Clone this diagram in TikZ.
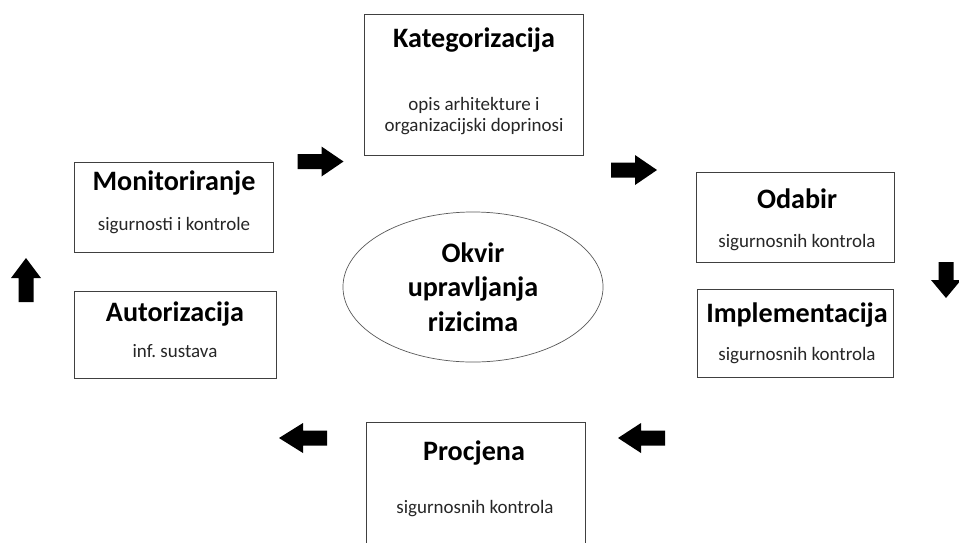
\documentclass[tikz,border=0pt]{standalone}
\usepackage{fontspec}
\setmainfont{Carlito}
\usetikzlibrary{shapes.geometric}

\begin{document}
\begin{tikzpicture}[
      x=0.025cm, y=-0.025cm,
      box/.style = {draw=black!75, line width=0.7pt, inner sep=0pt},
      title/.style = {font=\fontsize{20}{24.5}\selectfont\bfseries, anchor=base},
      desc/.style = {font=\fontsize{13.5}{16}\selectfont, anchor=base, text=black!85},
      bigarrow/.style = {fill=black}
    ]
    \useasboundingbox (0,0) rectangle (959,542);
    \clip (0,0) rectangle (959,542);

    % boxes
    \node[box, minimum width=5.45cm,  minimum height=3.5cm]   (kat) at (474,85)    {};
    \node[box, minimum width=4.95cm,  minimum height=2.25cm]  (mon) at (174,207)   {};
    \node[box, minimum width=5.025cm, minimum height=2.175cm] (aut) at (175.5,334.5) {};
    \node[box, minimum width=4.925cm, minimum height=2.25cm]  (oda) at (795.5,217) {};
    \node[box, minimum width=4.875cm, minimum height=2.2cm]   (imp) at (795.5,333) {};
    \node[box, minimum width=5.45cm,  minimum height=3.5cm]   (pro) at (476,492)   {};

    % titles and descriptions
    \node[title] (kattitle) at (474,47)  {Kategorizacija};
    \node[desc]  (katdesc1) at (474,110) {opis arhitekture i};
    \node[desc]  (katdesc2) at (474,131) {organizacijski doprinosi};

    \node[title] (montitle) at (174,190) {Monitoriranje};
    \node[desc]  (mondesc)  at (174,230) {sigurnosti i kontrole};

    \node[title] (auttitle) at (175,321) {Autorizacija};
    \node[desc]  (autdesc)  at (175,357) {inf.\ sustava};

    \node[title] (odatitle) at (797,208) {Odabir};
    \node[desc]  (odadesc)  at (797,247) {sigurnosnih kontrola};

    \node[title] (imptitle) at (797,322) {Implementacija};
    \node[desc]  (impdesc)  at (797,360) {sigurnosnih kontrola};

    \node[title] (protitle) at (474,460) {Procjena};
    \node[desc]  (prodesc)  at (475,513) {sigurnosnih kontrola};

    % centre
    \node[ellipse, draw=black!65, line width=0.5pt, minimum width=6.5cm, minimum height=3.75cm,
          align=center, font=\fontsize{20}{24.5}\selectfont\bfseries] (okvir) at (473,287)
          {Okvir\\upravljanja\\rizicima};

    % block arrows: x/y/angle/length/head
    \foreach \cx/\cy/\ang/\len/\head in {320.5/161.5/0/46/22, 634/170/0/46/22,
        946/280/-90/36/18, 641.5/438/180/47/23, 303/438/180/48/24, 26/280/90/44/20}{
      \fill[bigarrow, shift={(\cx,\cy)}, rotate=\ang]
        (-\len/2,-7.5) -- (\len/2-\head,-7.5) -- (\len/2-\head,-15) -- (\len/2,0)
        -- (\len/2-\head,15) -- (\len/2-\head,7.5) -- (-\len/2,7.5) -- cycle;
    }
  \end{tikzpicture}
\end{document}
